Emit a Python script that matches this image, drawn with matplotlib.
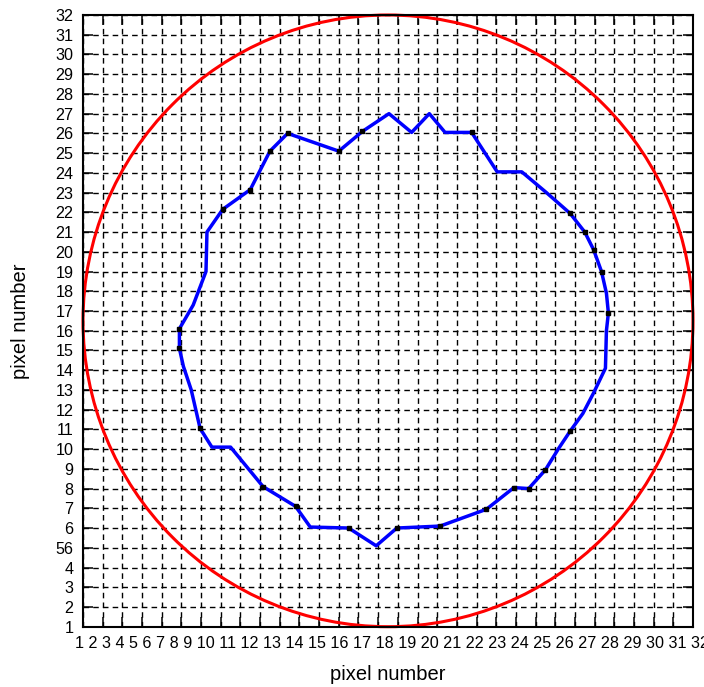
import numpy as np
import matplotlib.pyplot as plt
from matplotlib.patches import Circle

plt.rcParams['font.family'] = ['Liberation Sans', 'DejaVu Sans']

# Grid / tick positions and labels
ticks = list(range(1, 33))
xtick_labels = [str(i) for i in range(1, 33)]
ytick_labels = [str(i) for i in range(1, 33)]
ytick_labels[4] = "56"   # label at row 5 reads "56" in the original

# Red circle (field of view)
circle_center = (16.5, 16.5)
circle_radius = 15.5

# Blue contour vertices
contour_x = [5.9, 5.9, 6.6, 7.25, 7.3, 8.1, 9.5, 10.5, 11.4, 14.0, 15.2,
             16.55, 17.7, 18.6, 19.4, 20.75, 22.05, 23.3, 24.55, 25.75, 26.5,
             26.95, 27.35, 27.6, 27.7, 27.6, 27.55, 26.95, 26.4, 25.75, 25.15,
             24.5, 23.65, 22.9, 21.5, 19.15, 16.95, 15.9, 14.5, 12.55, 11.8,
             10.15, 8.5, 7.55, 6.95, 6.5, 6.1]
contour_y = [15.1, 16.1, 17.3, 19.0, 21.0, 22.15, 23.15, 25.1, 26.0, 25.1, 26.1,
             27.0, 26.05, 27.0, 26.05, 26.05, 24.05, 24.05, 23.0, 21.95, 21.0,
             20.1, 19.0, 17.9, 16.9, 16.0, 14.1, 12.85, 11.8, 10.9, 10.0,
             8.95, 8.0, 8.05, 6.95, 6.1, 6.0, 5.1, 6.0, 6.05, 7.1,
             8.1, 10.1, 10.1, 11.05, 13.0, 14.2]
# vertices that show a small black dot in the original
dot_idx = [1, 5, 6, 7, 8, 9, 10, 15, 19, 20, 21, 22, 24, 29, 31, 32, 33, 34,
           35, 36, 38, 40, 41, 0, 44]

W, H = 704, 687
fig = plt.figure(figsize=(W / 100, H / 100), dpi=100)
ax = fig.add_axes([83 / W, 1 - 626.7 / H, 610 / W, 611.7 / H])

ax.set_xlim(1, 32)
ax.set_ylim(1, 32)

ax.set_xticks(ticks)
ax.set_xticklabels([])
ax.set_yticks(ticks)
ax.set_yticklabels(ytick_labels, fontsize=11.6)

ax.tick_params(direction='in', length=7, width=1.1, top=True, right=True,
               pad=6.8, colors='black')
ax.grid(True, color='black', linestyle=(0, (4, 3)), linewidth=1.0)
ax.set_axisbelow(True)
for s in ax.spines.values():
    s.set_linewidth(1.5)
    s.set_zorder(5)

# circle
ax.add_patch(Circle(circle_center, circle_radius, fill=False, color='#ff0000',
                    linewidth=2.2, zorder=3, clip_on=False))

# contour (closed)
cx = contour_x + contour_x[:1]
cy = contour_y + contour_y[:1]
ax.plot(cx, cy, color='#0000ff', linewidth=2.5, zorder=4)
ax.plot([contour_x[i] for i in dot_idx], [contour_y[i] for i in dot_idx],
        linestyle='none', marker='s', markersize=2.3, color='black', zorder=4.5)

# x tick labels are written as one spaced string in the original
fig.text(75.2 / W, 1 - 648.5 / H, " ".join(xtick_labels), fontsize=11.6,
         ha='left', va='baseline')

fig.text(388 / W, 1 - 680 / H, "pixel number", fontsize=14.5,
         ha='center', va='baseline')
fig.text(21 / W, 1 - 321 / H, "pixel number", fontsize=14.5,
         ha='center', va='center', rotation=90)

fig.savefig("out.png", dpi=100)
